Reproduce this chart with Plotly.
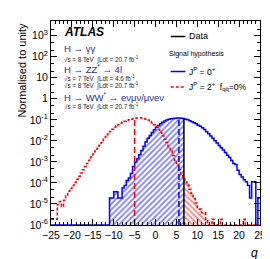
import plotly.graph_objects as go

# ---------------- data ----------------
hist_start = -25.0
bin_width = 0.5
n_bins = 100

# J^P = 0+ pseudo-experiment distribution (normalised), one value per bin
spin0_values = [
    0, 0, 0, 0, 0, 0, 0, 0, 0, 0,
    0, 0, 0, 0, 0, 0, 0, 0, 0, 0,
    0, 0, 0, 0, 0, 0, 0, 0,
    1.9e-5, 1.9e-5, 3.8e-5, 3.8e-5, 1.9e-5, 1.9e-5, 5.7e-5, 7.6e-5, 1.3e-4, 1.7e-4,
    2.8e-4, 6.0e-4, 1.0e-3, 1.4e-3, 2.2e-3, 3.5e-3, 5.6e-3, 8.9e-3, 0.0132, 0.018,
    0.025, 0.034, 0.044, 0.054, 0.065, 0.076, 0.087, 0.098, 0.107, 0.112,
    0.117, 0.120, 0.123, 0.123, 0.120, 0.115, 0.107, 0.100, 0.091, 0.081,
    0.072, 0.065, 0.056, 0.049, 0.042, 0.035, 0.0275, 0.022, 0.017, 0.0132,
    0.0102, 0.0079, 0.0060, 0.0047, 0.0037, 0.0028, 0.0021, 0.0016, 0.00117, 8.3e-4,
    7.6e-4, 4.0e-4, 2.5e-4, 1.9e-4, 1.4e-4, 1.15e-4, 7.6e-5, 1.9e-5, 1.14e-4, 1.14e-4,
    0, 1.9e-5,
]

# J^P = 2+ (f_qq = 0%) pseudo-experiment distribution
spin2_values = [
    1.9e-6, 1.9e-6, 1.9e-6, 9.5e-6, 1.3e-5, 7.6e-6, 1.5e-5, 2.5e-5, 4.0e-5, 5.5e-5,
    7.5e-5, 1.05e-4, 1.5e-4, 2.1e-4, 3.0e-4, 4.2e-4, 6.0e-4, 8.5e-4, 1.2e-3, 1.7e-3,
    2.4e-3, 3.3e-3, 4.5e-3, 6.2e-3, 8.3e-3, 0.012, 0.016, 0.021, 0.028, 0.036,
    0.044, 0.052, 0.060, 0.068, 0.077, 0.085, 0.093, 0.101, 0.108, 0.115,
    0.120, 0.124, 0.125, 0.122, 0.116, 0.108, 0.097, 0.083, 0.071, 0.059,
    0.048, 0.035, 0.025, 0.0174, 0.012, 0.0083, 0.0052, 0.0033, 0.0020, 0.0012,
    7.1e-4, 4.2e-4, 2.5e-4, 1.6e-4, 1.1e-4, 8.0e-5, 5.0e-5, 3.2e-5, 1.8e-5, 1.1e-5,
    5.7e-6, 5.7e-6, 3.8e-6, 3.8e-6, 1.9e-6, 0, 0, 1.9e-6, 0, 0,
    0, 1.9e-6, 0, 0, 0, 0, 0, 0, 0, 0,
    0, 0, 1.9e-6, 0, 0, 0, 0, 0, 0, 0,
]

data_q = 6.8          # observed value
median_spin0 = 5.6    # median of 0+ distribution
median_spin2 = -5.0   # median of 2+ distribution

x_tick_values = [-25, -20, -15, -10, -5, 0, 5, 10, 15, 20, 25]
y_tick_values = [1e-6, 1e-5, 1e-4, 1e-3, 1e-2, 1e-1, 1, 10, 100, 1000]
y_tick_labels = ["10<sup>-6</sup>", "10<sup>-5</sup>", "10<sup>-4</sup>", "10<sup>-3</sup>",
                 "10<sup>-2</sup>", "10<sup>-1</sup>", "1", "10", "10<sup>2</sup>", "10<sup>3</sup>"]

x_range = [-25, 25]
y_log_range = [-6, 3.7]
y_floor = 10 ** y_log_range[0]

BLUE = "#0000ff"
RED = "#ff0000"
NAVY = "#2b2b90"
FONT = "Liberation Sans, Arial, Helvetica, sans-serif"

edges = [hist_start + bin_width * i for i in range(n_bins + 1)]


def step_xy(values):
    ys = [v if v > 0 else y_floor for v in values]
    return edges, ys + [ys[-1]]


def value_at(values, q):
    i = int((q - hist_start) // bin_width)
    i = max(0, min(n_bins - 1, i))
    return values[i]


def fill_polygon(values, lo, hi):
    xs, ys = [lo], [y_floor]
    xs.append(lo)
    ys.append(max(value_at(values, lo), y_floor))
    for i in range(n_bins):
        e = edges[i]
        if lo < e < hi:
            xs.append(e)
            ys.append(max(values[i], y_floor))
    xs.append(hi)
    ys.append(ys[-1])
    xs.append(hi)
    ys.append(y_floor)
    return xs, ys


fig = go.Figure()

# hatched areas
bx, by = fill_polygon(spin0_values, x_range[0], data_q)
fig.add_trace(go.Scatter(x=bx, y=by, mode="lines", line=dict(width=0, shape="hv"),
                         fill="toself", fillcolor="rgba(0,0,0,0)",
                         fillpattern=dict(shape="/", fgcolor=BLUE, bgcolor="rgba(0,0,0,0)",
                                          size=4, solidity=0.45),
                         hoverinfo="skip", showlegend=False))
rx, ry = fill_polygon(spin2_values, data_q, x_range[1])
fig.add_trace(go.Scatter(x=rx, y=ry, mode="lines", line=dict(width=0, shape="hv"),
                         fill="toself", fillcolor="rgba(0,0,0,0)",
                         fillpattern=dict(shape="\\", fgcolor=RED, bgcolor="rgba(0,0,0,0)",
                                          size=4, solidity=0.45),
                         hoverinfo="skip", showlegend=False))

# histograms
x0, y0 = step_xy(spin0_values)
fig.add_trace(go.Scatter(x=x0, y=y0, mode="lines", line=dict(color=BLUE, width=1.5, shape="hv"),
                         showlegend=False))
x2, y2 = step_xy(spin2_values)
fig.add_trace(go.Scatter(x=x2, y=y2, mode="lines",
                         line=dict(color=RED, width=1.5, shape="hv", dash="3px,2px"),
                         showlegend=False))

# median lines and data line
fig.add_trace(go.Scatter(x=[median_spin2, median_spin2], y=[y_floor, value_at(spin2_values, median_spin2)],
                         mode="lines", line=dict(color=RED, width=1.5, dash="6px,3px"), showlegend=False))
fig.add_trace(go.Scatter(x=[median_spin0, median_spin0], y=[y_floor, value_at(spin0_values, median_spin0)],
                         mode="lines", line=dict(color=BLUE, width=1.5, dash="6px,3px"), showlegend=False))
fig.add_trace(go.Scatter(x=[data_q, data_q], y=[y_floor, value_at(spin0_values, data_q)],
                         mode="lines", line=dict(color="black", width=1.5), showlegend=False))

# ---------------- layout ----------------
L, R, T, B = 43, 14, 13, 42
W, H = 270, 259
pw, ph = W - L - R, H - T - B


def px(x):
    return (x - L) / pw


def py(y):
    return (H - B - y) / ph


annotations = []


def text(x, y, s, size, color="black", anchor="left", **kw):
    annotations.append(dict(x=px(x), y=py(y), xref="paper", yref="paper", text=s,
                            showarrow=False, xanchor=anchor, yanchor="middle",
                            font=dict(family=FONT, size=size, color=color), **kw))


text(54, 23.5, "<b><i>ATLAS</i></b>", 12)
text(54, 40.5, "H → γγ", 9.5, NAVY)
text(54, 51, "√s = 8 TeV  ∫Ldt = 20.7 fb<sup>-1</sup>", 6.3, "#222")
text(54, 61, "H → ZZ<sup>*</sup> → 4l", 9.5, NAVY)
text(54, 70.5, "√s = 7 TeV  ∫Ldt = 4.6 fb<sup>-1</sup>", 6.3, "#222")
text(54, 77.5, "√s = 8 TeV  ∫Ldt = 20.7 fb<sup>-1</sup>", 6.3, "#222")
text(54, 89, "H → WW<sup>*</sup> → eνμν/μνeν", 9.5, NAVY)
text(54, 99, "√s = 8 TeV  ∫Ldt = 20.7 fb<sup>-1</sup>", 6.3, "#222")

text(182, 28.5, "Data", 9)
text(161, 46.5, "Signal hypothesis", 7)
text(182, 63.5, "J<sup>P</sup> = 0<sup>+</sup>", 8.5)
text(182, 79, "J<sup>P</sup> = 2<sup>+</sup>  f<sub>qq\u0304</sub>=0%", 8.5)

# axis titles
annotations.append(dict(x=px(12.5), y=1.0, xref="paper", yref="paper", text="Normalised to unity",
                        textangle=-90, showarrow=False, xanchor="center", yanchor="top",
                        font=dict(family=FONT, size=11, color="black")))
annotations.append(dict(x=px(256), y=py(245), xref="paper", yref="paper", text="<i>q</i>",
                        showarrow=False, xanchor="right", yanchor="middle",
                        font=dict(family=FONT, size=12, color="black")))

shapes = [
    dict(type="line", xref="paper", yref="paper", x0=px(165), x1=px(180), y0=py(28.5), y1=py(28.5),
         line=dict(color="black", width=1.5)),
    dict(type="line", xref="paper", yref="paper", x0=px(165), x1=px(180), y0=py(63.5), y1=py(63.5),
         line=dict(color=BLUE, width=1.5)),
    dict(type="line", xref="paper", yref="paper", x0=px(165), x1=px(180), y0=py(79), y1=py(79),
         line=dict(color=RED, width=1.5, dash="3px,2px")),
]

axis_common = dict(showline=True, mirror="allticks", linecolor="black", linewidth=1,
                   ticks="inside", ticklen=6, tickcolor="black", showgrid=False, zeroline=False,
                   tickfont=dict(family=FONT, size=10.5, color="black"))

fig.update_layout(
    width=W, height=H,
    margin=dict(l=L, r=R, t=T, b=B, pad=0),
    paper_bgcolor="white", plot_bgcolor="white",
    annotations=annotations, shapes=shapes,
    showlegend=False,
    xaxis=dict(range=x_range, tickmode="array", tickvals=x_tick_values,
               minor=dict(ticks="inside", ticklen=3, dtick=1, tickcolor="black"),
               **axis_common),
    yaxis=dict(type="log", range=y_log_range, tickmode="array", tickvals=y_tick_values,
               ticktext=y_tick_labels,
               minor=dict(ticks="inside", ticklen=3, tickcolor="black"),
               **axis_common),
)

fig.write_html("out.html")
